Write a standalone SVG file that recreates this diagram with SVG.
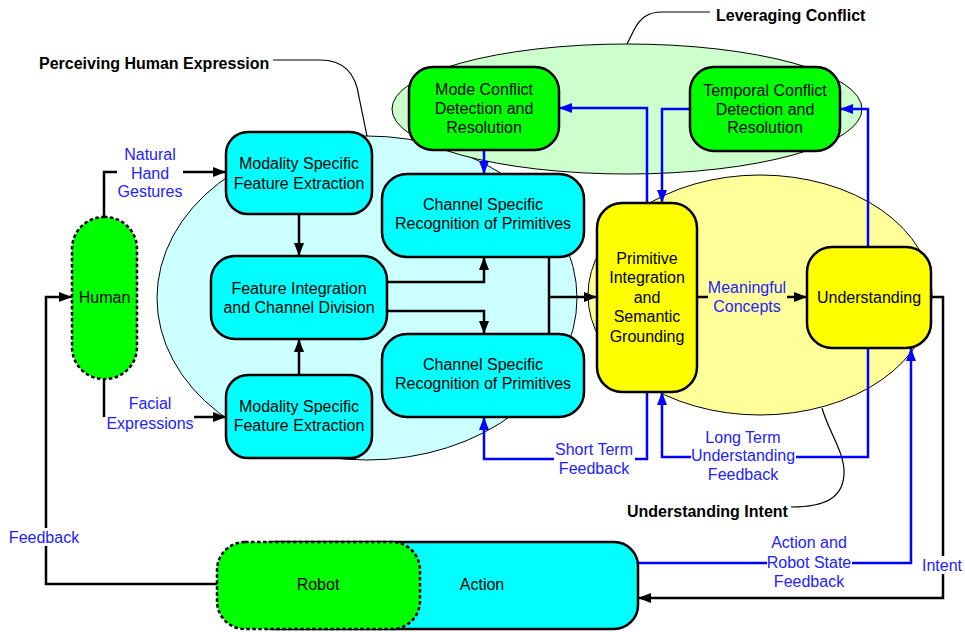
<svg xmlns="http://www.w3.org/2000/svg" width="965" height="632" viewBox="0 0 965 632">
  <style>
    text { font-family: "Liberation Sans", Arial, sans-serif; font-size: 16px; fill: #000; }
    .c { text-anchor: middle; }
    .lbl { fill: #2222ff; text-anchor: middle; }
    .title { font-weight: bold; }
    .box { stroke: #000; stroke-width: 2.5; }
    .dash { stroke: #000; stroke-width: 2.5; stroke-dasharray: 3.5 2.5; }
    .cyan { fill: #00ffff; }
    .green { fill: #00ff00; }
    .yellow { fill: #ffff00; }
    .k { fill: none; stroke: #000; stroke-width: 2.5; }
    .b { fill: none; stroke: #0000ff; stroke-width: 2.5; }
    .ka { marker-end: url(#ah); }
    .ba { marker-end: url(#bh); }
    .zone { stroke: #000; stroke-width: 1; }
    .callout { fill: none; stroke: #000; stroke-width: 1.2; }
  </style>
  <defs>
    <marker id="ah" viewBox="0 0 13 10" refX="13" refY="5" markerWidth="13" markerHeight="10" markerUnits="userSpaceOnUse" orient="auto">
      <path d="M0,0 L13,5 L0,10 z" fill="#000"/>
    </marker>
    <marker id="bh" viewBox="0 0 13 10" refX="13" refY="5" markerWidth="13" markerHeight="10" markerUnits="userSpaceOnUse" orient="auto">
      <path d="M0,0 L13,5 L0,10 z" fill="#0000ff"/>
    </marker>
  </defs>

  <rect width="965" height="632" fill="#fff"/>

  <!-- grouping zones -->
  <g id="zones">
    <ellipse class="zone" cx="367" cy="298" rx="210" ry="162" fill="#ccffff"/>
    <ellipse class="zone" cx="627" cy="109" rx="235" ry="65" fill="#ccffcc"/>
    <ellipse class="zone" cx="760" cy="295" rx="172" ry="120" fill="#ffff99"/>
  </g>

  <!-- zone titles with leader curves -->
  <g id="zone-titles">
    <path class="callout" d="M273,60 H320 C345,60 356,75 359,97 L367,136"/>
    <text class="title" x="39" y="68.5">Perceiving Human Expression</text>
    <path class="callout" d="M710,12 H662 C648,12 640,18 634,30 L627,44"/>
    <text class="title" x="716" y="20.5">Leveraging Conflict</text>
    <path class="callout" d="M791,507 C825,507 845,498 844,470 C843,450 828,430 822,408"/>
    <text class="title" x="627" y="516.5">Understanding Intent</text>
  </g>

  <!-- connectors -->
  <g id="connectors">
    <!-- human to feature extraction -->
    <path class="k" d="M104,217 V172 H117"/>
    <path class="k ka" d="M183,172 H226"/>
    <path class="k" d="M104,379 V417"/>
    <path class="k ka" d="M194,417 H226"/>
    <!-- feature extraction to integration -->
    <path class="k ka" d="M299,214 V256"/>
    <path class="k ka" d="M299,375 V339"/>
    <!-- integration to channels -->
    <path class="k ka" d="M387,282 H484 V257"/>
    <path class="k ka" d="M387,311 H484 V334"/>
    <!-- channels to primitive integration -->
    <path class="k" d="M549,257 V334"/>
    <path class="k ka" d="M549,297 H597"/>
    <!-- meaningful concepts -->
    <path class="k" d="M697,297 H708"/>
    <path class="k ka" d="M787,297 H807"/>
    <!-- intent to action -->
    <path class="k" d="M931,297 H943 V556"/>
    <path class="k ka" d="M943,574 V598 H638"/>
    <!-- robot feedback to human -->
    <path class="k" d="M217,584 H46 V546"/>
    <path class="k ka" d="M46,528 V297 H72"/>

    <!-- conflict loops -->
    <path class="b ba" d="M647,203 V108 H559"/>
    <path class="b ba" d="M690,109 H662 V203"/>
    <path class="b ba" d="M868,247 V109 H840"/>
    <path class="b ba" d="M484,150 V174"/>
    <!-- short term feedback -->
    <path class="b" d="M647,392 V459 H635"/>
    <path class="b ba" d="M554,459 H484 V417"/>
    <!-- long term feedback -->
    <path class="b" d="M868,348 V457 H796"/>
    <path class="b ba" d="M691,457 H662 V392"/>
    <!-- action and robot state feedback -->
    <path class="b" d="M638,563 H767"/>
    <path class="b ba" d="M852,563 H911 V348"/>
  </g>

  <!-- connector labels -->
  <g id="connector-labels">
    <text class="lbl" x="150"><tspan x="150" y="159.5">Natural</tspan><tspan x="150" y="178.5">Hand</tspan><tspan x="150" y="196.5">Gestures</tspan></text>
    <text class="lbl" x="150"><tspan x="150" y="408.5">Facial</tspan><tspan x="150" y="428.5">Expressions</tspan></text>
    <text class="lbl" x="44" y="542.5">Feedback</text>
    <text class="lbl" x="747"><tspan x="747" y="292.5">Meaningful</tspan><tspan x="747" y="311.5">Concepts</tspan></text>
    <text class="lbl" x="594"><tspan x="594" y="454.5">Short Term</tspan><tspan x="594" y="473.5">Feedback</tspan></text>
    <text class="lbl" x="743"><tspan x="743" y="442.5">Long Term</tspan><tspan x="743" y="460.5">Understanding</tspan><tspan x="743" y="479.5">Feedback</tspan></text>
    <text class="lbl" x="809"><tspan x="809" y="547.5">Action and</tspan><tspan x="809" y="567.5">Robot State</tspan><tspan x="809" y="586.5">Feedback</tspan></text>
    <text class="lbl" x="942" y="570.5">Intent</text>
  </g>

  <!-- nodes -->
  <g id="human">
    <rect class="dash green" x="72" y="217" width="65" height="162" rx="32" ry="32"/>
    <text class="c" x="104.5" y="302.5">Human</text>
  </g>
  <g id="feature-extraction-hands">
    <rect class="box cyan" x="226" y="132" width="146" height="82" rx="22"/>
    <text class="c"><tspan x="299" y="168.5">Modality Specific</tspan><tspan x="299" y="188.5">Feature Extraction</tspan></text>
  </g>
  <g id="feature-extraction-face">
    <rect class="box cyan" x="226" y="375" width="146" height="83" rx="22"/>
    <text class="c"><tspan x="299" y="411.5">Modality Specific</tspan><tspan x="299" y="430.5">Feature Extraction</tspan></text>
  </g>
  <g id="feature-integration">
    <rect class="box cyan" x="211" y="256" width="176" height="83" rx="24"/>
    <text class="c"><tspan x="299" y="293.5">Feature Integration</tspan><tspan x="299" y="312.5">and Channel Division</tspan></text>
  </g>
  <g id="channel-recognition-a">
    <rect class="box cyan" x="382" y="174" width="202" height="83" rx="25"/>
    <text class="c"><tspan x="483" y="209.5">Channel Specific</tspan><tspan x="483" y="228.5">Recognition of Primitives</tspan></text>
  </g>
  <g id="channel-recognition-b">
    <rect class="box cyan" x="382" y="334" width="202" height="83" rx="25"/>
    <text class="c"><tspan x="483" y="369.5">Channel Specific</tspan><tspan x="483" y="388.5">Recognition of Primitives</tspan></text>
  </g>
  <g id="mode-conflict">
    <rect class="box green" x="409" y="67" width="150" height="83" rx="24"/>
    <text class="c"><tspan x="484" y="94.5">Mode Conflict</tspan><tspan x="484" y="113.5">Detection and</tspan><tspan x="484" y="132.5">Resolution</tspan></text>
  </g>
  <g id="temporal-conflict">
    <rect class="box green" x="690" y="67" width="150" height="84" rx="24"/>
    <text class="c"><tspan x="765" y="95.5">Temporal Conflict</tspan><tspan x="765" y="114.5">Detection and</tspan><tspan x="765" y="132.5">Resolution</tspan></text>
  </g>
  <g id="primitive-integration">
    <rect class="box yellow" x="597" y="203" width="100" height="189" rx="25"/>
    <text class="c"><tspan x="647" y="263.5">Primitive</tspan><tspan x="647" y="282.5">Integration</tspan><tspan x="647" y="302.5">and</tspan><tspan x="647" y="321.5">Semantic</tspan><tspan x="647" y="341.5">Grounding</tspan></text>
  </g>
  <g id="understanding">
    <rect class="box yellow" x="807" y="247" width="124" height="101" rx="25"/>
    <text class="c" x="869" y="302.5">Understanding</text>
  </g>
  <g id="action">
    <!-- left end sits under the robot block -->
    <rect class="box cyan" x="250" y="542" width="388" height="87" rx="24"/>
    <text class="c" x="482" y="589.5">Action</text>
  </g>
  <g id="robot">
    <rect class="dash green" x="217" y="542" width="203" height="87" rx="28"/>
    <text class="c" x="318" y="589.5">Robot</text>
  </g>
</svg>
